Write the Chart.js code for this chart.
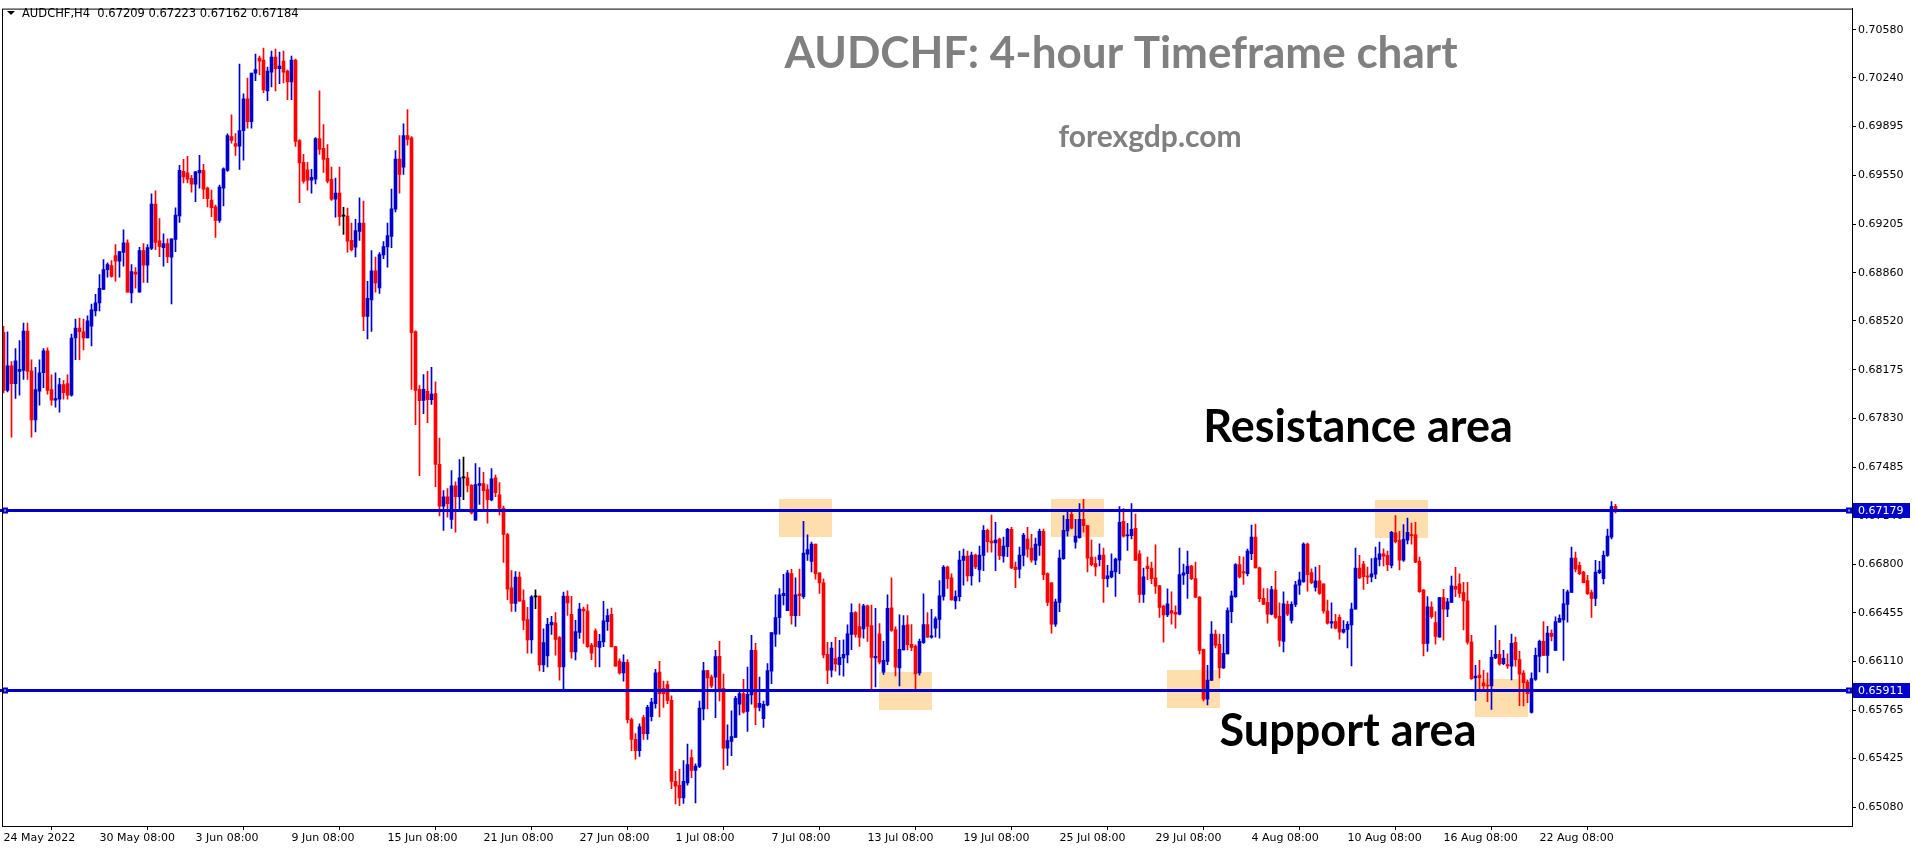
<!DOCTYPE html>
<html lang="en">
<head>
<meta charset="UTF-8">
<title>AUDCHF H4</title>
<style>
  html, body { margin: 0; padding: 0; background: #fff; overflow: hidden; }
  canvas { display: block; }
</style>
</head>
<body>
<canvas id="chart" width="1916" height="850"></canvas>

<script src="https://cdn.jsdelivr.net/npm/chart.js@4.4.1/dist/chart.umd.min.js"></script>
<script>
// ---- data: AUDCHF H4 candles, 24 May 2022 08:00 .. 25 Aug 2022 08:00 ----
var opens = [
  0.68439,0.68029,0.68202,0.68076,0.68163,0.68170,0.68448,0.68167,0.67819,0.68022,
  0.68153,0.68308,0.68034,0.67959,0.67966,0.68069,0.68076,0.67994,0.68399,0.68469,
  0.68443,0.68399,0.68483,0.68591,0.68647,0.68743,0.68883,0.68911,0.68982,0.68942,
  0.69005,0.69073,0.68717,0.68865,0.68724,0.69017,0.68914,0.69033,0.69347,0.69087,
  0.69038,0.69066,0.68970,0.69096,0.69262,0.69578,0.69567,0.69529,0.69487,0.69567,
  0.69585,0.69459,0.69375,0.69326,0.69230,0.69459,0.69585,0.69824,0.69775,0.69756,
  0.69866,0.70091,0.69929,0.70273,0.70379,0.70365,0.70147,0.70280,0.70386,0.70304,
  0.70358,0.70287,0.70210,0.70365,0.69796,0.69641,0.69588,0.69515,0.69522,0.69810,
  0.69740,0.69670,0.69522,0.69381,0.69424,0.69261,0.69261,0.69089,0.69041,0.69152,
  0.69212,0.68551,0.68668,0.68874,0.68754,0.68986,0.69043,0.69118,0.69310,0.69665,
  0.69608,0.69831,0.69814,0.68445,0.68035,0.67958,0.68021,0.67963,0.68006,0.67505,
  0.67210,0.67276,0.67115,0.67353,0.67276,0.67410,0.67410,0.67356,0.67110,0.67356,
  0.67370,0.67327,0.67253,0.67410,0.67290,0.67195,0.67009,0.66631,0.66522,0.66708,
  0.66542,0.66408,0.66264,0.66568,0.66574,0.66087,0.66150,0.66370,0.66385,0.66279,
  0.66072,0.66574,0.66445,0.66178,0.66316,0.66482,0.66468,0.66227,0.66327,0.66210,
  0.66250,0.66393,0.66445,0.66216,0.66113,0.66029,0.66104,0.65700,0.65560,0.65480,
  0.65714,0.65600,0.65720,0.65813,0.66035,0.65920,0.65948,0.65836,0.65263,0.65235,
  0.65146,0.65251,0.65431,0.65340,0.65368,0.65775,0.66047,0.66000,0.66000,0.66147,
  0.65920,0.65497,0.65546,0.65574,0.65808,0.65883,0.65757,0.65874,0.66189,0.65785,
  0.65707,0.65803,0.66042,0.66304,0.66421,0.66576,0.66470,0.66732,0.66435,0.66590,
  0.66569,0.66870,0.66819,0.66941,0.66737,0.66667,0.66161,0.66049,0.66131,0.66089,
  0.66136,0.66157,0.66302,0.66456,0.66358,0.66341,0.66505,0.66365,0.66136,0.66306,
  0.66035,0.66112,0.66491,0.66337,0.66065,0.66192,0.66370,0.66232,0.66220,0.66030,
  0.66243,0.66372,0.66283,0.66346,0.66409,0.66571,0.66779,0.66702,0.66540,0.66569,
  0.66826,0.66856,0.66716,0.66863,0.66758,0.66861,0.67039,0.66962,0.66950,0.66976,
  0.66856,0.66922,0.67046,0.66779,0.66763,0.66861,0.66976,0.66913,0.66828,0.66931,
  0.67032,0.66732,0.66667,0.66374,0.66529,0.66838,0.67034,0.67151,0.66955,0.66987,
  0.67116,0.67072,0.66849,0.66803,0.66831,0.66863,0.66697,0.66709,0.66744,0.66828,
  0.67102,0.66999,0.67001,0.67053,0.66873,0.66585,0.66786,0.66772,0.66702,0.66646,
  0.66503,0.66440,0.66470,0.66459,0.66445,0.66721,0.66732,0.66786,0.66697,0.66566,
  0.66196,0.65845,0.65977,0.66304,0.66232,0.66065,0.66164,0.66463,0.66569,0.66796,
  0.66746,0.66732,0.66873,0.66990,0.66774,0.66557,0.66529,0.66445,0.66618,0.66430,
  0.66253,0.66515,0.66402,0.66515,0.66650,0.66674,0.66941,0.66739,0.66634,0.66681,
  0.66660,0.66468,0.66381,0.66393,0.66423,0.66318,0.66337,0.66370,0.66480,0.66772,
  0.66800,0.66716,0.66709,0.66728,0.66833,0.66873,0.66861,0.66791,0.67020,0.66969,
  0.66828,0.66969,0.67006,0.67006,0.66819,0.66615,0.66239,0.66496,0.66386,0.66283,
  0.66562,0.66480,0.66529,0.66643,0.66660,0.66599,0.66540,0.66248,0.65995,0.66014,
  0.65960,0.65944,0.65937,0.66136,0.66161,0.66096,0.66089,0.66077,0.66246,0.66124,
  0.66028,0.65965,0.65750,0.65984,0.66147,0.66253,0.66154,0.66309,0.66189,0.66388,
  0.66405,0.66515,0.66599,0.66842,0.66791,0.66744,0.66683,0.66599,0.66557,0.66739,
  0.66697,0.66861,0.66990,0.67209
];
var highs = [
  0.68481,0.68443,0.68233,0.68324,0.68380,0.68504,0.68504,0.68245,0.68191,0.68245,
  0.68324,0.68329,0.68139,0.68153,0.68113,0.68097,0.68139,0.68427,0.68532,0.68539,
  0.68532,0.68556,0.68638,0.68708,0.68848,0.68954,0.68930,0.68947,0.69059,0.69010,
  0.69164,0.69094,0.68918,0.68897,0.69040,0.69066,0.69059,0.69419,0.69440,0.69244,
  0.69136,0.69101,0.69101,0.69319,0.69620,0.69663,0.69684,0.69550,0.69578,0.69691,
  0.69627,0.69466,0.69445,0.69340,0.69480,0.69602,0.69843,0.69978,0.69845,0.70336,
  0.70126,0.70238,0.70273,0.70407,0.70393,0.70449,0.70315,0.70428,0.70442,0.70421,
  0.70428,0.70294,0.70393,0.70372,0.69803,0.69698,0.69641,0.69592,0.69817,0.70147,
  0.69908,0.69768,0.69608,0.69530,0.69608,0.69324,0.69318,0.69212,0.69238,0.69390,
  0.69367,0.68800,0.69018,0.68972,0.69003,0.69081,0.69212,0.69453,0.69725,0.69831,
  0.69914,0.70015,0.69823,0.68450,0.68063,0.68141,0.68164,0.68192,0.68089,0.67691,
  0.67319,0.67333,0.67462,0.67382,0.67539,0.67556,0.67448,0.67362,0.67511,0.67482,
  0.67448,0.67362,0.67476,0.67430,0.67376,0.67210,0.67018,0.66754,0.66746,0.66743,
  0.66617,0.66494,0.66577,0.66617,0.66574,0.66342,0.66416,0.66430,0.66456,0.66287,
  0.66602,0.66611,0.66571,0.66402,0.66522,0.66496,0.66514,0.66239,0.66342,0.66302,
  0.66537,0.66482,0.66488,0.66216,0.66130,0.66158,0.66124,0.65710,0.65600,0.65670,
  0.65730,0.65800,0.65850,0.66056,0.66112,0.65972,0.65972,0.65867,0.65333,0.65347,
  0.65410,0.65527,0.65485,0.65387,0.65831,0.66105,0.66049,0.66014,0.66189,0.66253,
  0.66021,0.65663,0.65761,0.65864,0.65899,0.65984,0.66072,0.66295,0.66239,0.66000,
  0.65831,0.66096,0.66316,0.66583,0.66627,0.66728,0.66756,0.66763,0.66702,0.66765,
  0.67102,0.67006,0.66955,0.66941,0.66737,0.66695,0.66246,0.66246,0.66281,0.66260,
  0.66264,0.66370,0.66519,0.66463,0.66519,0.66515,0.66510,0.66510,0.66487,0.66379,
  0.66253,0.66583,0.66702,0.66356,0.66440,0.66435,0.66435,0.66372,0.66229,0.66269,
  0.66590,0.66456,0.66480,0.66426,0.66683,0.66789,0.66786,0.66730,0.66611,0.66891,
  0.66906,0.66891,0.66884,0.66870,0.66927,0.67072,0.67048,0.67147,0.67095,0.66983,
  0.66990,0.67053,0.67060,0.66814,0.66920,0.67018,0.67060,0.67011,0.66983,0.67048,
  0.67048,0.66737,0.66669,0.66552,0.66898,0.67142,0.67165,0.67165,0.67116,0.67228,
  0.67257,0.67072,0.66969,0.66849,0.66943,0.66913,0.66791,0.66873,0.66842,0.67207,
  0.67193,0.67088,0.67228,0.67154,0.66896,0.66772,0.66849,0.66814,0.66936,0.66650,
  0.66510,0.66625,0.66604,0.66505,0.66913,0.66800,0.66891,0.66791,0.66814,0.66569,
  0.66199,0.66084,0.66393,0.66332,0.66304,0.66302,0.66491,0.66608,0.66803,0.66854,
  0.66849,0.66906,0.67076,0.67083,0.66779,0.66627,0.66627,0.66643,0.66749,0.66526,
  0.66604,0.66538,0.66533,0.66678,0.66744,0.66950,0.66948,0.66767,0.66779,0.66791,
  0.66660,0.66545,0.66526,0.66445,0.66440,0.66400,0.66393,0.66524,0.66913,0.66861,
  0.66819,0.66779,0.66838,0.66920,0.66955,0.66908,0.66891,0.67032,0.67142,0.67032,
  0.67079,0.67125,0.67090,0.67095,0.66849,0.66622,0.66569,0.66533,0.66463,0.66564,
  0.66622,0.66557,0.66714,0.66777,0.66730,0.66671,0.66671,0.66295,0.66084,0.66119,
  0.66049,0.66030,0.66189,0.66365,0.66260,0.66189,0.66164,0.66304,0.66283,0.66182,
  0.66047,0.65979,0.66030,0.66206,0.66262,0.66393,0.66360,0.66334,0.66426,0.66440,
  0.66622,0.66615,0.66920,0.66884,0.66814,0.66749,0.66721,0.66615,0.66826,0.66819,
  0.66891,0.67048,0.67242,0.67223
];
var lows = [
  0.68011,0.68018,0.67697,0.67971,0.67994,0.68106,0.68106,0.67697,0.67734,0.67924,
  0.68048,0.68001,0.67924,0.67910,0.67875,0.67966,0.67966,0.67987,0.68245,0.68245,
  0.68315,0.68399,0.68343,0.68556,0.68591,0.68743,0.68830,0.68830,0.68801,0.68830,
  0.68907,0.68724,0.68647,0.68752,0.68724,0.68792,0.68792,0.69024,0.69024,0.68975,
  0.68907,0.68932,0.68640,0.69010,0.69216,0.69496,0.69496,0.69431,0.69363,0.69459,
  0.69384,0.69326,0.69258,0.69110,0.69216,0.69333,0.69578,0.69777,0.69691,0.69592,
  0.69656,0.69883,0.69883,0.70219,0.70262,0.70135,0.70077,0.70175,0.70147,0.70198,
  0.70203,0.70084,0.70084,0.69754,0.69356,0.69494,0.69445,0.69424,0.69489,0.69698,
  0.69571,0.69496,0.69373,0.69253,0.69195,0.69132,0.69006,0.69015,0.68972,0.69089,
  0.68450,0.68393,0.68445,0.68723,0.68714,0.68960,0.68900,0.69038,0.69290,0.69424,
  0.69556,0.69763,0.68035,0.67786,0.67425,0.67863,0.67800,0.67929,0.67347,0.67141,
  0.67038,0.67132,0.67052,0.67026,0.67175,0.67256,0.67310,0.67155,0.67110,0.67221,
  0.67175,0.67089,0.67247,0.67276,0.67147,0.66812,0.66548,0.66465,0.66465,0.66537,
  0.66336,0.66170,0.66170,0.66485,0.66044,0.66038,0.66072,0.66302,0.66155,0.65978,
  0.65906,0.66436,0.66135,0.66121,0.66273,0.66239,0.66210,0.66124,0.66072,0.66072,
  0.66216,0.66330,0.66213,0.66078,0.66021,0.65972,0.65677,0.65480,0.65420,0.65440,
  0.65560,0.65560,0.65690,0.65780,0.65719,0.65785,0.65813,0.65211,0.65104,0.65090,
  0.65106,0.65235,0.65289,0.65111,0.65359,0.65698,0.65775,0.65925,0.65714,0.65831,
  0.65347,0.65375,0.65445,0.65574,0.65733,0.65745,0.65616,0.65808,0.65663,0.65761,
  0.65644,0.65796,0.65953,0.66218,0.66304,0.66510,0.66470,0.66374,0.66358,0.66435,
  0.66557,0.66826,0.66744,0.66693,0.66592,0.66136,0.65953,0.66002,0.66042,0.66014,
  0.66007,0.66100,0.66194,0.66283,0.66218,0.66276,0.66253,0.65913,0.65930,0.66094,
  0.66019,0.66089,0.66323,0.66009,0.65937,0.66192,0.66192,0.66187,0.65913,0.66014,
  0.66239,0.66281,0.66276,0.66283,0.66276,0.66545,0.66627,0.66545,0.66482,0.66540,
  0.66650,0.66679,0.66650,0.66767,0.66674,0.66753,0.66884,0.66884,0.66753,0.66831,
  0.66814,0.66852,0.66767,0.66632,0.66702,0.66786,0.66849,0.66814,0.66796,0.66861,
  0.66690,0.66505,0.66311,0.66358,0.66463,0.66833,0.66997,0.67048,0.66913,0.66983,
  0.67025,0.66744,0.66786,0.66716,0.66786,0.66529,0.66639,0.66702,0.66571,0.66732,
  0.66990,0.66896,0.66978,0.66826,0.66529,0.66529,0.66690,0.66662,0.66592,0.66423,
  0.66248,0.66428,0.66374,0.66346,0.66440,0.66655,0.66557,0.66690,0.66562,0.66164,
  0.65831,0.65803,0.65977,0.66206,0.65995,0.66061,0.66164,0.66386,0.66564,0.66702,
  0.66655,0.66716,0.66831,0.66772,0.66533,0.66515,0.66381,0.66440,0.66416,0.66218,
  0.66178,0.66435,0.66381,0.66498,0.66585,0.66671,0.66608,0.66662,0.66608,0.66585,
  0.66452,0.66374,0.66346,0.66341,0.66269,0.66311,0.66206,0.66079,0.66480,0.66697,
  0.66620,0.66662,0.66674,0.66697,0.66786,0.66786,0.66753,0.66772,0.66950,0.66758,
  0.66819,0.66943,0.66941,0.66810,0.66599,0.66150,0.66182,0.66416,0.66234,0.66283,
  0.66262,0.66428,0.66529,0.66569,0.66564,0.66334,0.66234,0.65984,0.65836,0.65913,
  0.65902,0.65827,0.65771,0.66131,0.66084,0.66089,0.66061,0.65981,0.66077,0.65799,
  0.65796,0.65820,0.65745,0.65977,0.66037,0.66152,0.66030,0.66257,0.66189,0.66388,
  0.66119,0.66388,0.66599,0.66744,0.66725,0.66667,0.66585,0.66423,0.66505,0.66732,
  0.66660,0.66854,0.66978,0.67162
];
var closes = [
  0.68029,0.68202,0.68076,0.68237,0.68177,0.68448,0.68163,0.67819,0.68034,0.68153,
  0.68308,0.68029,0.67959,0.67971,0.68069,0.68013,0.67994,0.68399,0.68469,0.68443,
  0.68399,0.68521,0.68598,0.68647,0.68750,0.68883,0.68918,0.68834,0.68942,0.69010,
  0.69073,0.68724,0.68869,0.68851,0.69017,0.68914,0.69038,0.69347,0.69075,0.69045,
  0.69066,0.68975,0.69101,0.69269,0.69585,0.69539,0.69522,0.69487,0.69574,0.69585,
  0.69452,0.69384,0.69321,0.69230,0.69466,0.69595,0.69831,0.69796,0.69756,0.69866,
  0.70091,0.69929,0.70273,0.70297,0.70358,0.70154,0.70287,0.70386,0.70304,0.70322,
  0.70280,0.70210,0.70365,0.69789,0.69637,0.69508,0.69515,0.69536,0.69810,0.69733,
  0.69663,0.69508,0.69381,0.69424,0.69258,0.69261,0.69084,0.69023,0.69158,0.69212,
  0.68551,0.68680,0.68874,0.68788,0.68989,0.69046,0.69124,0.69313,0.69665,0.69556,
  0.69831,0.69803,0.68436,0.68029,0.67955,0.68035,0.67963,0.68003,0.67505,0.67210,
  0.67276,0.67227,0.67353,0.67276,0.67410,0.67410,0.67356,0.67161,0.67362,0.67370,
  0.67319,0.67256,0.67402,0.67304,0.67195,0.67009,0.66622,0.66522,0.66708,0.66537,
  0.66402,0.66264,0.66568,0.66568,0.66087,0.66244,0.66373,0.66388,0.66267,0.66072,
  0.66574,0.66525,0.66178,0.66322,0.66482,0.66468,0.66216,0.66170,0.66216,0.66253,
  0.66399,0.66436,0.66213,0.66078,0.66029,0.66104,0.65700,0.65560,0.65480,0.65648,
  0.65600,0.65786,0.65823,0.66030,0.65883,0.65883,0.65836,0.65263,0.65228,0.65146,
  0.65263,0.65382,0.65340,0.65370,0.65782,0.66047,0.65995,0.65937,0.66145,0.65913,
  0.65497,0.65551,0.65579,0.65850,0.65883,0.65752,0.65878,0.66189,0.65785,0.65815,
  0.65808,0.66047,0.66316,0.66421,0.66583,0.66592,0.66737,0.66435,0.66583,0.66576,
  0.66877,0.66903,0.66941,0.66732,0.66667,0.66157,0.66049,0.66206,0.66094,0.66140,
  0.66161,0.66306,0.66456,0.66302,0.66281,0.66505,0.66358,0.66140,0.66147,0.66105,
  0.66119,0.66487,0.66330,0.66070,0.66196,0.66365,0.66229,0.66210,0.66023,0.66253,
  0.66372,0.66283,0.66292,0.66412,0.66576,0.66779,0.66697,0.66547,0.66569,0.66828,
  0.66856,0.66716,0.66863,0.66779,0.66863,0.67039,0.66959,0.66950,0.66969,0.66859,
  0.66927,0.67046,0.66772,0.66760,0.66863,0.67004,0.66906,0.66828,0.66941,0.67032,
  0.66725,0.66529,0.66374,0.66533,0.66842,0.67039,0.67116,0.67053,0.66997,0.67116,
  0.67072,0.66842,0.66796,0.66779,0.66863,0.66697,0.66716,0.66751,0.66835,0.67095,
  0.66997,0.67006,0.67046,0.66826,0.66585,0.66709,0.66767,0.66697,0.66643,0.66494,
  0.66440,0.66519,0.66452,0.66445,0.66725,0.66737,0.66786,0.66697,0.66566,0.66189,
  0.65845,0.65979,0.66304,0.66225,0.66065,0.66168,0.66470,0.66576,0.66796,0.66709,
  0.66737,0.66891,0.66990,0.66772,0.66555,0.66515,0.66445,0.66620,0.66423,0.66260,
  0.66519,0.66445,0.66515,0.66653,0.66688,0.66941,0.66725,0.66669,0.66681,0.66592,
  0.66468,0.66381,0.66393,0.66346,0.66318,0.66339,0.66374,0.66482,0.66772,0.66702,
  0.66711,0.66707,0.66730,0.66842,0.66873,0.66856,0.66796,0.67025,0.66959,0.66828,
  0.66976,0.67025,0.67001,0.66814,0.66604,0.66236,0.66498,0.66428,0.66288,0.66562,
  0.66480,0.66533,0.66646,0.66622,0.66592,0.66540,0.66248,0.65990,0.66007,0.65995,
  0.65937,0.65937,0.66140,0.66161,0.66094,0.66133,0.66079,0.66239,0.66124,0.66021,
  0.65960,0.65883,0.65990,0.66154,0.66253,0.66154,0.66311,0.66288,0.66393,0.66416,
  0.66519,0.66604,0.66842,0.66763,0.66732,0.66669,0.66590,0.66557,0.66744,0.66758,
  0.66861,0.66997,0.67207,0.67184
];

// time axis labels (one every 24 bars)
var tickBars = [0, 24, 48, 72, 96, 120, 144, 168, 192, 216, 240, 264, 288, 312, 336, 360, 384];
var tickLabels = ['24 May 2022', '30 May 08:00', '3 Jun 08:00', '9 Jun 08:00', '15 Jun 08:00',
  '21 Jun 08:00', '27 Jun 08:00', '1 Jul 08:00', '7 Jul 08:00', '13 Jul 08:00', '19 Jul 08:00',
  '25 Jul 08:00', '29 Jul 08:00', '4 Aug 08:00', '10 Aug 08:00', '16 Aug 08:00', '22 Aug 08:00'];

// price axis labels
var priceTicks = [0.70580, 0.70240, 0.69895, 0.69550, 0.69205, 0.68860, 0.68520, 0.68175,
  0.67830, 0.67485, 0.67140, 0.66800, 0.66455, 0.66110, 0.65765, 0.65425, 0.65080];

// horizontal levels
var levels = [0.67179, 0.65911];

// highlighted touch zones (bar range + price range)
var zoneFrom = [194, 219, 262, 291, 343, 368];
var zoneTo = [207, 232, 275, 304, 356, 381];
var zoneTop = [0.67263, 0.66035, 0.67263, 0.66049, 0.67256, 0.65986];
var zoneBottom = [0.66996, 0.65768, 0.66996, 0.65782, 0.66989, 0.65719];

var headerText = 'AUDCHF,H4  0.67209 0.67223 0.67162 0.67184';
var titleText = 'AUDCHF: 4-hour Timeframe chart';
var siteText = 'forexgdp.com';
var resistanceText = 'Resistance area';
var supportText = 'Support area';

// ---- styling ----
var BULL = '#0000CC';
var BEAR = '#FF0000';
var DOJI = '#000000';
var LINE_BLUE = '#0000CC';
var ZONE = '#FFDEAD';
var AXIS_FONT = '11px "DejaVu Sans"';

function candleColor(i) {
  if (closes[i] > opens[i]) return BULL;
  if (closes[i] < opens[i]) return BEAR;
  return DOJI;
}

var bodies = opens.map(function (o, i) { return { x: i, y: [o, closes[i]] }; });
var wicks = lows.map(function (l, i) { return { x: i, y: [l, highs[i]] }; });

var overlay = {
  id: 'overlay',
  beforeDatasetsDraw: function (chart) {
    var ctx = chart.ctx, x = chart.scales.x, y = chart.scales.y;
    ctx.save();
    ctx.fillStyle = ZONE;
    for (var k = 0; k < zoneFrom.length; k++) {
      var x0 = x.getPixelForValue(zoneFrom[k]) - 0.5;
      var x1 = x.getPixelForValue(zoneTo[k]) + 0.5;
      var y0 = y.getPixelForValue(zoneTop[k]);
      var y1 = y.getPixelForValue(zoneBottom[k]);
      ctx.fillRect(Math.round(x0), Math.round(y0), Math.round(x1 - x0), Math.round(y1 - y0));
    }
    ctx.restore();
  },
  afterDatasetsDraw: function (chart) {
    var ctx = chart.ctx, a = chart.chartArea, y = chart.scales.y;
    ctx.save();
    // levels
    ctx.strokeStyle = LINE_BLUE;
    ctx.lineWidth = 3;
    levels.forEach(function (v) {
      var py = Math.round(y.getPixelForValue(v)) + 0.5;
      ctx.beginPath();
      ctx.moveTo(0, py);
      ctx.lineTo(a.right, py);
      ctx.stroke();
      // end handles
      ctx.fillStyle = LINE_BLUE;
      ctx.fillRect(a.left, py - 3, 6, 6);
      ctx.fillRect(a.right - 6, py - 3, 6, 6);
      ctx.fillStyle = '#8c8cff';
      ctx.fillRect(a.left + 2, py - 1, 2, 2);
      ctx.fillRect(a.right - 4, py - 1, 2, 2);
    });
    // frame
    ctx.strokeStyle = '#000';
    ctx.lineWidth = 1;
    ctx.strokeRect(a.left + 0.5, a.top + 0.5, a.right - a.left, a.bottom - a.top);
    ctx.restore();
  },
  afterDraw: function (chart) {
    var ctx = chart.ctx, a = chart.chartArea, y = chart.scales.y;
    ctx.save();
    // price tags on the axis
    levels.forEach(function (v) {
      var py = Math.round(y.getPixelForValue(v));
      ctx.fillStyle = LINE_BLUE;
      ctx.fillRect(a.right + 1, py - 7, 57, 15);
      ctx.fillStyle = '#fff';
      ctx.font = AXIS_FONT;
      ctx.textAlign = 'left';
      ctx.textBaseline = 'middle';
      ctx.fillText(v.toFixed(5), a.right + 6, py + 1);
    });
    // header
    ctx.fillStyle = '#000';
    ctx.beginPath();
    ctx.moveTo(7, 11); ctx.lineTo(15, 11); ctx.lineTo(11, 15); ctx.closePath();
    ctx.fill();
    ctx.font = '11.5px "DejaVu Sans"';
    ctx.textAlign = 'left';
    ctx.textBaseline = 'alphabetic';
    ctx.fillText(headerText, 22, 17);
    // titles
    ctx.textAlign = 'center';
    ctx.fillStyle = '#808080';
    ctx.font = 'bold 44px Lato';
    ctx.fillText(titleText, 1121, 68);
    ctx.font = 'bold 30px Lato';
    ctx.fillText(siteText, 1150, 147);
    ctx.fillStyle = '#000';
    ctx.font = 'bold 45px Lato';
    ctx.fillText(resistanceText, 1358, 442);
    ctx.fillText(supportText, 1348, 746);
    ctx.restore();
  }
};

new Chart(document.getElementById('chart'), {
  type: 'bar',
  data: {
    datasets: [
      {
        label: 'wick',
        data: wicks,
        backgroundColor: function (c) { return candleColor(c.dataIndex); },
        barThickness: 1,
        grouped: false,
        order: 2,
        borderWidth: 0
      },
      {
        label: 'body',
        data: bodies,
        backgroundColor: function (c) { return candleColor(c.dataIndex); },
        barThickness: 3,
        minBarLength: 1,
        grouped: false,
        order: 1,
        borderWidth: 0
      }
    ]
  },
  options: {
    responsive: false,
    animation: false,
    devicePixelRatio: 1,
    layout: { padding: { left: 2, top: 2, right: 0, bottom: 0 } },
    plugins: { legend: { display: false }, tooltip: { enabled: false } },
    scales: {
      x: {
        type: 'linear',
        min: -0.375,
        max: 462.125,
        offset: false,
        afterBuildTicks: function (s) { s.ticks = tickBars.map(function (v) { return { value: v }; }); },
        afterFit: function (s) { s.height = 24; },
        ticks: {
          autoSkip: false,
          maxRotation: 0,
          align: 'start',
          padding: 2,
          color: '#000',
          font: { family: 'DejaVu Sans', size: 11 },
          callback: function (v) { var k = tickBars.indexOf(v); return k < 0 ? '' : tickLabels[k]; }
        },
        grid: { drawOnChartArea: false, drawTicks: true, tickLength: 4, color: '#000' },
        border: { display: true, color: '#000' }
      },
      y: {
        position: 'right',
        min: 0.64947,
        max: 0.70729,
        afterBuildTicks: function (s) { s.ticks = priceTicks.map(function (v) { return { value: v }; }); },
        afterFit: function (s) { s.width = 64; },
        ticks: {
          padding: 2,
          color: '#000',
          font: { family: 'DejaVu Sans', size: 11 },
          callback: function (v) { return v.toFixed(5); }
        },
        grid: { drawOnChartArea: false, drawTicks: true, tickLength: 4, color: '#000' },
        border: { display: true, color: '#000' }
      }
    }
  },
  plugins: [overlay]
});
</script>
</body>
</html>
